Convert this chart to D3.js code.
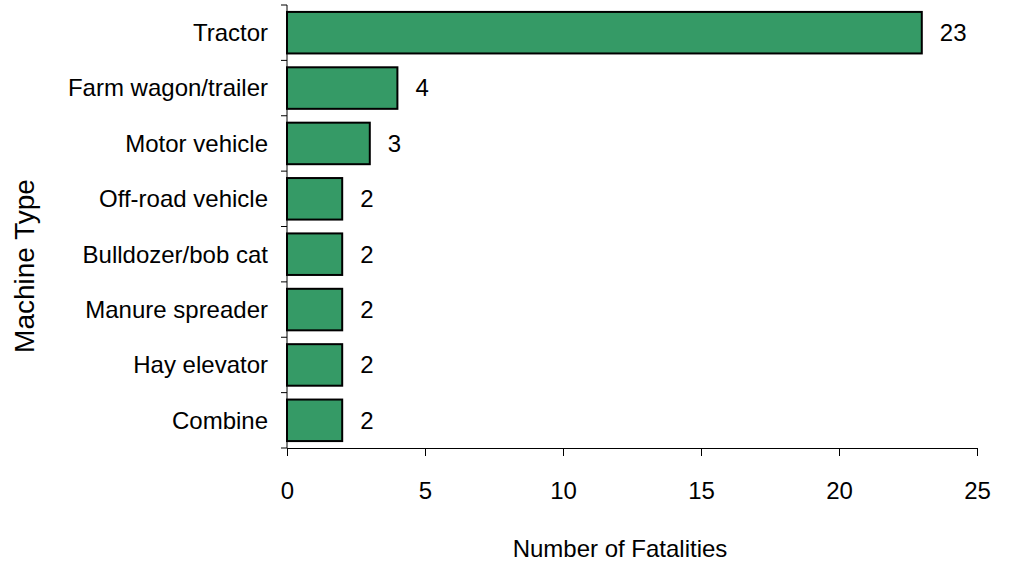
<!DOCTYPE html>
<html><head><meta charset="utf-8">
<script src="https://cdn.jsdelivr.net/npm/d3@7"></script>
<style>body{margin:0;background:#fff}svg{display:block}text{font-family:"Liberation Sans",Arial,sans-serif;fill:#000}</style>
</head><body><svg id="c" width="1011" height="563"></svg>
<script>
const categories = ["Tractor","Farm wagon/trailer","Motor vehicle","Off-road vehicle","Bulldozer/bob cat","Manure spreader","Hay elevator","Combine"];
const values = [23,4,3,2,2,2,2,2];
const xTicks = [0,5,10,15,20,25];

const svg = d3.select("#c");
const L = 287, R = 977, T = 5, B = 448;
const x = d3.scaleLinear().domain([0,25]).range([L,R]);
const y = d3.scaleBand().domain(categories).range([T,B]).paddingInner(0.25).paddingOuter(0.125);

// bars
svg.selectAll("rect.bar").data(categories).enter().append("rect")
  .attr("x", x(0)).attr("y", d => y(d))
  .attr("width", (d,i) => x(values[i]) - x(0)).attr("height", y.bandwidth())
  .attr("fill", "#359a66").attr("stroke", "#000").attr("stroke-width", 2);

// value labels
svg.selectAll("text.val").data(categories).enter().append("text")
  .attr("x", (d,i) => x(values[i]) + 18).attr("y", d => y(d) + y.bandwidth()/2)
  .attr("dy", "0.35em").attr("font-size", 24).text((d,i) => values[i]);

// y axis
svg.append("line").attr("x1", L).attr("x2", L).attr("y1", T).attr("y2", B).attr("stroke", "#000");
const step = (B - T) / categories.length;
d3.range(categories.length + 1).forEach(i => {
  svg.append("line").attr("x1", L-6).attr("x2", L).attr("y1", T + i*step).attr("y2", T + i*step).attr("stroke", "#000");
});
svg.selectAll("text.cat").data(categories).enter().append("text")
  .attr("x", L - 19).attr("y", d => y(d) + y.bandwidth()/2).attr("dy", "0.35em")
  .attr("text-anchor", "end").attr("font-size", 24).text(d => d);

// x axis
const xa = svg.append("g").attr("transform", `translate(0,${B})`)
  .call(d3.axisBottom(x).tickValues(xTicks).tickSize(8).tickPadding(26).tickSizeOuter(0));
xa.select(".domain").attr("stroke", "#000");
xa.selectAll(".tick line").attr("stroke", "#000");
xa.selectAll(".tick text").attr("font-size", 24).attr("font-family", "Liberation Sans, Arial, sans-serif").attr("fill", "#000");

// axis titles
svg.append("text").attr("x", 620).attr("y", 557).attr("text-anchor", "middle").attr("font-size", 24).text("Number of Fatalities");
svg.append("text").attr("transform", "translate(34,266) rotate(-90)").attr("text-anchor", "middle").attr("font-size", 28).text("Machine Type");
</script></body></html>
